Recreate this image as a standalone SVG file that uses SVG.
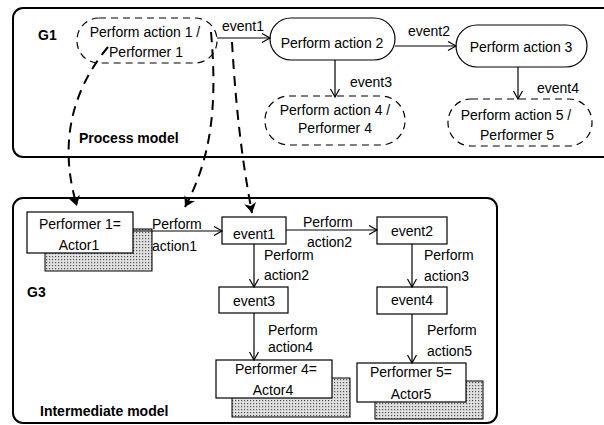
<svg xmlns="http://www.w3.org/2000/svg" width="604" height="425" viewBox="0 0 604 425">
<style>
text{font-family:"Liberation Sans",Arial,sans-serif;font-size:14px;fill:#000}
.b{font-weight:bold}
.m{text-anchor:middle}
.cont{fill:none;stroke:#000;stroke-width:2}
.solid{fill:#fff;stroke:#000;stroke-width:1.2}
.dnode{fill:#fff;stroke:#000;stroke-width:1.2;stroke-dasharray:7,5}
.box{fill:#fff;stroke:#000;stroke-width:1.2}
.shadow{fill:url(#dots);stroke:#000;stroke-width:1}
.arr{fill:none;stroke:#000;stroke-width:1.2;marker-end:url(#open)}
.map{fill:none;stroke:#000;stroke-width:2;stroke-dasharray:10,7;marker-end:url(#fill)}
</style>
<defs>
<pattern id="dots" width="3" height="3" patternUnits="userSpaceOnUse">
<rect width="3" height="3" fill="#e0e0e0"/>
<rect x="1" y="1" width="1.2" height="1.2" fill="#555"/>
</pattern>
<marker id="open" markerWidth="12" markerHeight="12" refX="9" refY="5" orient="auto" markerUnits="userSpaceOnUse">
<path d="M1,0.5 L9,5 L1,9.5" fill="none" stroke="#000" stroke-width="1.2"/>
</marker>
<marker id="fill" markerWidth="14" markerHeight="14" refX="10" refY="6" orient="auto" markerUnits="userSpaceOnUse">
<path d="M0,0 L10,6 L0,12 L3,6 Z" fill="#000"/>
</marker>
</defs>

<g id="G1">
<rect class="cont" x="13" y="8" width="605" height="149" rx="10"/>
<text class="b" x="38" y="40">G1</text>
<text class="b" x="79" y="143">Process model</text>
</g>

<g id="G3">
<rect class="cont" x="13" y="198" width="484" height="225" rx="10"/>
<text class="b" x="27" y="297">G3</text>
<text class="b" x="40" y="416">Intermediate model</text>
</g>

<g id="pa1">
<rect class="dnode" x="77" y="18" width="140" height="45" rx="22"/>
<text class="m" x="145" y="37">Perform action 1 /</text>
<text class="m" x="146" y="57">Performer 1</text>
</g>
<g id="pa2">
<rect class="solid" x="270" y="18" width="125" height="42" rx="21"/>
<text class="m" x="332" y="48">Perform action 2</text>
</g>
<g id="pa3">
<rect class="solid" x="456" y="25" width="131" height="42" rx="21"/>
<text class="m" x="521" y="52">Perform action 3</text>
</g>
<g id="pa4">
<rect class="dnode" x="265" y="96" width="140" height="49" rx="24"/>
<text class="m" x="335" y="115">Perform action 4 /</text>
<text class="m" x="335" y="133">Performer 4</text>
</g>
<g id="pa5">
<rect class="dnode" x="448" y="99" width="144" height="47" rx="23"/>
<text class="m" x="516" y="120">Perform action 5 /</text>
<text class="m" x="517" y="140">Performer 5</text>
</g>

<g id="actor1">
<rect class="shadow" x="45" y="229" width="107" height="42"/>
<rect class="box" x="27" y="212" width="106" height="41"/>
<text class="m" x="80" y="229">Performer 1=</text>
<text class="m" x="79" y="250">Actor1</text>
</g>
<g id="ev1">
<rect class="box" x="222" y="217" width="64" height="27"/>
<text class="m" x="254" y="239">event1</text>
</g>
<g id="ev2">
<rect class="box" x="377" y="217" width="70" height="27"/>
<text class="m" x="412" y="236">event2</text>
</g>
<g id="ev3">
<rect class="box" x="219" y="287" width="69" height="26"/>
<text class="m" x="254" y="306">event3</text>
</g>
<g id="ev4">
<rect class="box" x="377" y="287" width="70" height="27"/>
<text class="m" x="412" y="305">event4</text>
</g>
<g id="actor4">
<rect class="shadow" x="232" y="378" width="118" height="39"/>
<rect class="box" x="216" y="360" width="116" height="38"/>
<text class="m" x="276" y="374">Performer 4=</text>
<text class="m" x="273" y="395">Actor4</text>
</g>
<g id="actor5">
<rect class="shadow" x="375" y="381" width="108" height="38"/>
<rect class="box" x="357" y="363" width="109" height="39"/>
<text class="m" x="411" y="377">Performer 5=</text>
<text class="m" x="411" y="399">Actor5</text>
</g>

<g id="connectors">
<path class="arr" d="M217,38 H270"/>
<text x="222" y="31">event1</text>
<path class="arr" d="M395,46 H456"/>
<text x="408" y="36">event2</text>
<path class="arr" d="M335,60 V97"/>
<text x="350" y="87">event3</text>
<path class="arr" d="M518,67 V99"/>
<text x="537" y="93">event4</text>

<path class="arr" d="M133,231 H222"/>
<text x="152" y="229">Perform</text>
<text x="152" y="251">action1</text>
<path class="arr" d="M286,230 H377"/>
<text x="303" y="227">Perform</text>
<text x="307" y="247">action2</text>
<path class="arr" d="M254,244 V287"/>
<text x="264" y="260">Perform</text>
<text x="264" y="280">action2</text>
<path class="arr" d="M412,244 V287"/>
<text x="424" y="260">Perform</text>
<text x="424" y="281">action3</text>
<path class="arr" d="M254,313 V360"/>
<text x="268" y="335">Perform</text>
<text x="268" y="352">action4</text>
<path class="arr" d="M412,314 V363"/>
<text x="427" y="335">Perform</text>
<text x="427" y="356">action5</text>

<path class="map" d="M108,47 C68,95 60,150 77,206"/>
<path class="map" d="M211,32 C218,110 210,160 185,207"/>
<path class="map" d="M232,42 C236,110 242,160 252,213"/>
</g>
</svg>
